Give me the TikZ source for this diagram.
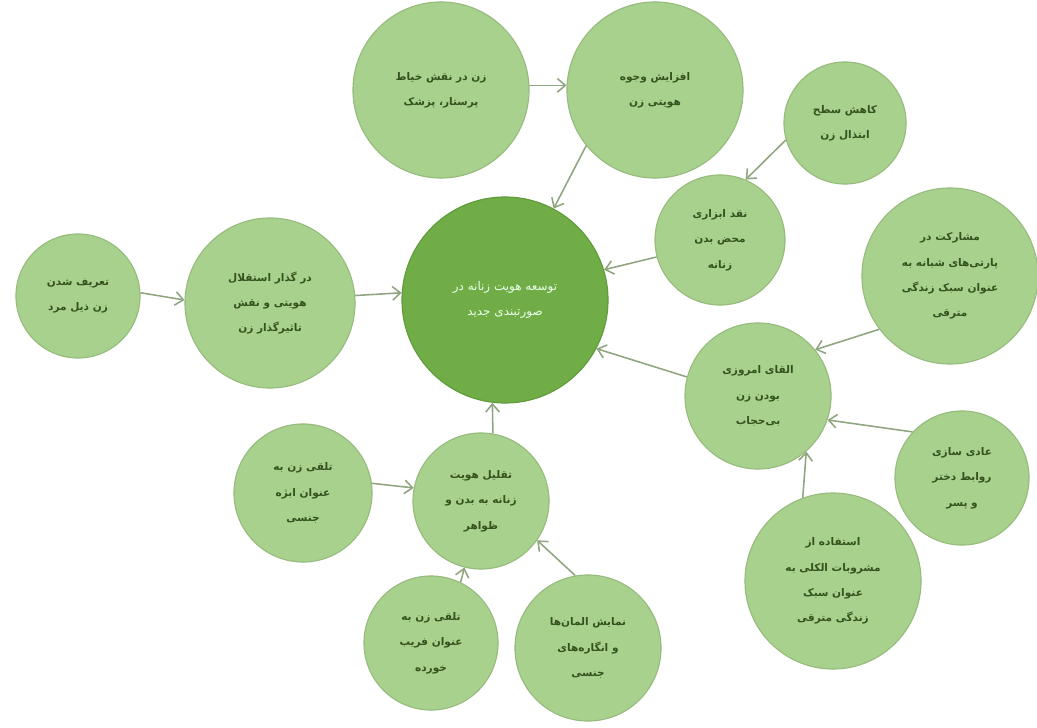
\documentclass[tikz,border=0pt]{standalone}
\usepackage{fontspec}
\usepackage{xcolor}
\usepackage{tikz}
\usetikzlibrary{arrows.meta}
\TeXXeTstate=1
\newfontfamily\arabicfont[Script=Arabic]{DejaVu Sans}
\newcommand{\fa}[1]{\beginR #1\endR}
\definecolor{leaf}{HTML}{A9D18E}
\definecolor{leafline}{HTML}{96BB7D}
\definecolor{coregreen}{HTML}{70AD47}
\definecolor{coreline}{HTML}{5F9A3B}
\definecolor{ink}{HTML}{34521E}
\definecolor{linkgray}{HTML}{8FA580}

\begin{document}
\begin{tikzpicture}[x=0.025cm,y=-0.025cm,>={Straight Barb[length=2mm,width=3.4mm]}]
    \tikzset{
      bubble/.style={circle, draw=leafline, line width=0.8pt, fill=leaf, text=ink, align=center, inner sep=0pt,
        minimum size=#1cm, font=\arabicfont\bfseries\fontsize{7.5}{18}\selectfont},
      hub/.style={circle, draw=coreline, line width=0.8pt, fill=coregreen, text=green!8, align=center, inner sep=0pt,
        minimum size=#1cm, font=\arabicfont\fontsize{8.5}{18}\selectfont},
      arrow/.style={->, draw=linkgray, line width=1.1pt}
    }
    \fill[white] (0,0) rectangle (1037,728);
    \useasboundingbox (0,0) rectangle (1037,728);
    \node[hub=5.15] (core) at (505,300) {\fa{توسعه هویت زنانه در}\\\fa{صورتبندی جدید}};
    \node[bubble=4.4] (tailor) at (441,90) {\fa{زن در نقش خیاط}\\\fa{پرستار، پزشک}};
    \node[bubble=4.4] (identity) at (655,90) {\fa{افزایش وجوه}\\\fa{هویتی زن}};
    \node[bubble=3.05] (vulgar) at (845,123) {\fa{کاهش سطح}\\\fa{ابتذال زن}};
    \node[bubble=3.25] (critique) at (720,240) {\fa{نقد ابزاری}\\\fa{محض بدن}\\\fa{زنانه}};
    \node[bubble=3.1] (defined) at (78,296) {\fa{تعریف شدن}\\\fa{زن ذیل مرد}};
    \node[bubble=4.25] (transit) at (270,303) {\fa{در گذار استقلال}\\\fa{هویتی و نقش}\\\fa{تاثیرگذار زن}};
    \node[bubble=4.4] (parties) at (950,276) {\fa{مشارکت در}\\\fa{پارتی‌های شبانه به}\\\fa{عنوان سبک زندگی}\\\fa{مترقی}};
    \node[bubble=3.65] (unveiled) at (758,396) {\fa{القای امروزی}\\\fa{بودن زن}\\\fa{بی‌حجاب}};
    \node[bubble=3.35] (norm) at (962,478) {\fa{عادی سازی}\\\fa{روابط دختر}\\\fa{و پسر}};
    \node[bubble=4.4] (alcohol) at (833,581) {\fa{استفاده از}\\\fa{مشروبات الکلی به}\\\fa{عنوان سبک}\\\fa{زندگی مترقی}};
    \node[bubble=3.45] (objectify) at (303,493) {\fa{تلقی زن به}\\\fa{عنوان ابژه}\\\fa{جنسی}};
    \node[bubble=3.4] (reduce) at (481,501) {\fa{تقلیل هویت}\\\fa{زنانه به بدن و}\\\fa{ظواهر}};
    \node[bubble=3.35] (deceived) at (431,643) {\fa{تلقی زن به}\\\fa{عنوان فریب}\\\fa{خورده}};
    \node[bubble=3.65] (display) at (588,648) {\fa{نمایش المان‌ها}\\\fa{و انگاره‌های}\\\fa{جنسی}};
    \draw[arrow] (tailor.3) -- (identity.177);
    \draw[arrow] (identity.219) -- (core.62);
    \draw[arrow] (vulgar.196) -- (critique.67);
    \draw[arrow] (critique.195) -- (core.17);
    \draw[arrow] (defined.3) -- (transit.178);
    \draw[arrow] (transit.5) -- (core.176);
    \draw[arrow] (parties.217) -- (unveiled.39);
    \draw[arrow] (unveiled.165) -- (core.332);
    \draw[arrow] (norm.137) -- (unveiled.341);
    \draw[arrow] (alcohol.110) -- (unveiled.311);
    \draw[arrow] (objectify.8) -- (reduce.169);
    \draw[arrow] (reduce.80) -- (core.263);
    \draw[arrow] (deceived.64) -- (reduce.256);
    \draw[arrow] (display.100) -- (reduce.325);
  \end{tikzpicture}
\end{document}
